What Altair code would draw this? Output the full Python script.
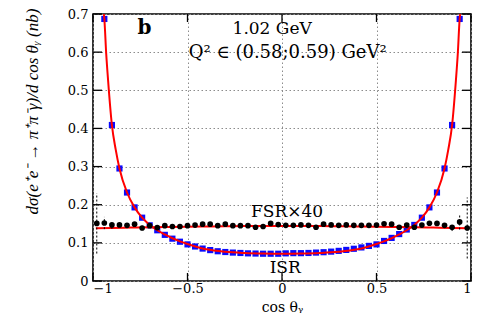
import altair as alt
import pandas as pd

# ---- data ----
isr_x = [-0.94, -0.90, -0.86, -0.82, -0.78, -0.74, -0.70, -0.66, -0.62, -0.58, -0.54, -0.50,
         -0.46, -0.42, -0.38, -0.34, -0.30, -0.26, -0.22, -0.18, -0.14, -0.10, -0.06, -0.02,
         0.02, 0.06, 0.10, 0.14, 0.18, 0.22, 0.26, 0.30, 0.34, 0.38, 0.42, 0.46,
         0.50, 0.54, 0.58, 0.62, 0.66, 0.70, 0.74, 0.78, 0.82, 0.86, 0.90, 0.94]
isr_y = [0.687, 0.409, 0.295, 0.232, 0.193, 0.166, 0.146, 0.133, 0.121, 0.111, 0.103, 0.096,
         0.0905, 0.085, 0.081, 0.078, 0.076, 0.0745, 0.0735, 0.0725, 0.072, 0.0715, 0.0715, 0.0715,
         0.0725, 0.073, 0.073, 0.0735, 0.0745, 0.0755, 0.077, 0.079, 0.0815, 0.0845, 0.088, 0.092,
         0.096, 0.105, 0.113, 0.123, 0.135, 0.147, 0.166, 0.193, 0.232, 0.295, 0.409, 0.687]

fsr_x = [-0.98, -0.94, -0.90, -0.86, -0.82, -0.78, -0.74, -0.70, -0.66, -0.62, -0.58, -0.54,
         -0.50, -0.46, -0.42, -0.38, -0.34, -0.30, -0.26, -0.22, -0.18, -0.14, -0.10, -0.06, -0.02,
         0.02, 0.06, 0.10, 0.14, 0.18, 0.22, 0.26, 0.30, 0.34, 0.38, 0.42, 0.46,
         0.50, 0.54, 0.58, 0.62, 0.66, 0.70, 0.74, 0.78, 0.82, 0.86, 0.90, 0.94, 0.98]
fsr_y = [0.151, 0.152, 0.147, 0.147, 0.146, 0.149, 0.139, 0.145, 0.140, 0.145, 0.143, 0.143,
         0.145, 0.1465, 0.149, 0.149, 0.145, 0.149, 0.145, 0.145, 0.145, 0.141, 0.143, 0.151, 0.148,
         0.146, 0.146, 0.147, 0.146, 0.141, 0.149, 0.147, 0.146, 0.147, 0.146, 0.146, 0.146,
         0.1465, 0.150, 0.149, 0.141, 0.1465, 0.141, 0.1465, 0.1515, 0.151, 0.146, 0.141, 0.155, 0.139]
fsr_err = [0.079, 0.016, 0.010, 0.005, 0.004, 0.004, 0.006, 0.004, 0.004, 0.004, 0.004, 0.004,
           0.004, 0.004, 0.004, 0.004, 0.004, 0.004, 0.004, 0.004, 0.004, 0.004, 0.004, 0.004, 0.004,
           0.004, 0.004, 0.004, 0.004, 0.004, 0.004, 0.004, 0.004, 0.004, 0.004, 0.004, 0.004,
           0.004, 0.004, 0.004, 0.005, 0.004, 0.005, 0.005, 0.004, 0.005, 0.006, 0.010, 0.020, 0.080]

isr_curve_x = [-0.9425, -0.94, -0.93, -0.92, -0.90, -0.88, -0.86, -0.82, -0.78, -0.74, -0.70,
               -0.66, -0.62, -0.58, -0.54, -0.50, -0.40, -0.30, -0.20, -0.10, 0.0,
               0.10, 0.20, 0.30, 0.40, 0.50, 0.54, 0.58, 0.62, 0.66, 0.70, 0.74, 0.78,
               0.82, 0.86, 0.88, 0.90, 0.92, 0.93, 0.94, 0.9425]
isr_curve_y = [0.700, 0.687, 0.595, 0.525, 0.409, 0.345, 0.295, 0.232, 0.193, 0.166, 0.147,
               0.133, 0.122, 0.112, 0.104, 0.097, 0.083, 0.0765, 0.0735, 0.072, 0.0715,
               0.072, 0.0735, 0.0765, 0.083, 0.097, 0.104, 0.112, 0.122, 0.133, 0.147, 0.166, 0.193,
               0.232, 0.295, 0.345, 0.409, 0.525, 0.595, 0.687, 0.700]

fsr_curve_x = [-0.985, -0.9, -0.8, -0.7, -0.6, -0.5, -0.4, -0.3, -0.2, -0.1, 0.0,
               0.1, 0.2, 0.3, 0.4, 0.5, 0.6, 0.7, 0.8, 0.9, 0.985]
fsr_curve_y = [0.138, 0.139, 0.140, 0.141, 0.1418, 0.1425, 0.143, 0.1435, 0.144, 0.144, 0.1442,
               0.144, 0.144, 0.1435, 0.143, 0.1425, 0.1418, 0.141, 0.140, 0.139, 0.138]

x_ticks = [-1, -0.5, 0, 0.5, 1]
y_ticks = [0, 0.1, 0.2, 0.3, 0.4, 0.5, 0.6, 0.7]

W, H = 378, 267
FONT = "DejaVu Serif"

xscale = alt.Scale(domain=[-1, 1], nice=False, zero=False)
yscale = alt.Scale(domain=[0, 0.7], nice=False, zero=False)

axis_x = alt.Axis(values=x_ticks, tickSize=0, domain=False, grid=True,
                  gridDash=[1.5, 2.5], gridColor="#8c8c8c", gridWidth=1,
                  labelFont=FONT, labelFontSize=13, labelColor="black", labelPadding=1,
                  labelExpr="datum.value == 0 ? '0' : (datum.value < 0 ? '\u2212' + format(-datum.value, '~g') : format(datum.value, '~g'))",
                  titleFont=FONT, titleFontSize=14, titleFontWeight="normal",
                  titleColor="black", titleBaseline="alphabetic", titleY=30)
axis_y = alt.Axis(values=y_ticks, tickSize=0, domain=False, grid=True,
                  gridDash=[1.5, 2.5], gridColor="#8c8c8c", gridWidth=1,
                  labelFont=FONT, labelFontSize=13, labelColor="black", labelPadding=5,
                  labelExpr="datum.value == 0 ? '0' : format(datum.value, '.1f')",
                  titleFont="Liberation Serif", titleFontSize=17, titleFontWeight="normal",
                  titleFontStyle="italic", titleColor="black",
                  titleAngle=270, titleAlign="center", titleBaseline="middle",
                  titleX=-61, titleY=97)

XT = "cos \u03b8\u1d67"
YT = "d\u03c3(e\u207ae\u207b \u2192 \u03c0\u207a\u03c0\u207b\u03b3)/d cos \u03b8\u1d67 (nb)"

X = alt.X("x:Q", scale=xscale, axis=axis_x, title=XT)
Y = alt.Y("y:Q", scale=yscale, axis=axis_y, title=YT)

isr_df = pd.DataFrame({"x": isr_x, "y": isr_y})
fsr_df = pd.DataFrame({"x": fsr_x, "y": fsr_y, "e": fsr_err})
isr_c = pd.DataFrame({"x": isr_curve_x, "y": isr_curve_y})
fsr_c = pd.DataFrame({"x": fsr_curve_x, "y": fsr_curve_y})
xt_df = pd.DataFrame({"x": x_ticks})
yt_df = pd.DataFrame({"y": y_ticks})

squares = alt.Chart(isr_df).mark_square(size=38, color="#0a0aff", opacity=1).encode(x=X, y=Y)
isr_line = alt.Chart(isr_c).mark_line(color="#ff0000", strokeWidth=2, interpolate="monotone", clip=True).encode(x=X, y=Y)
fsr_line = alt.Chart(fsr_c).mark_line(color="#ff0000", strokeWidth=2, interpolate="monotone", clip=True).encode(x=X, y=Y)
errbars = alt.Chart(fsr_df).transform_calculate(
    lo="datum.y - datum.e", hi="datum.y + datum.e"
).mark_rule(color="black", strokeWidth=1, strokeDash=[2, 2], clip=True).encode(
    x=X, y=alt.Y("lo:Q", scale=yscale, axis=axis_y, title=YT), y2="hi:Q")
dots = alt.Chart(fsr_df).mark_circle(size=32, color="black", opacity=1).encode(x=X, y=Y)

tick_b = alt.Chart(xt_df).mark_rule(color="black", strokeWidth=1.3).encode(
    x=X, y=alt.value(H), y2=alt.value(H - 8))
tick_t = alt.Chart(xt_df).mark_rule(color="black", strokeWidth=1.3).encode(
    x=X, y=alt.value(0), y2=alt.value(8))
tick_l = alt.Chart(yt_df).mark_rule(color="black", strokeWidth=1.3).encode(
    y=Y, x=alt.value(0), x2=alt.value(9))
tick_r = alt.Chart(yt_df).mark_rule(color="black", strokeWidth=1.3).encode(
    y=Y, x=alt.value(W), x2=alt.value(W - 9))

def label(txt, x, y, size=17, weight="normal", align="center"):
    return alt.Chart(pd.DataFrame({"x": [x], "y": [y]})).mark_text(
        text=txt, font=FONT, fontSize=size, fontWeight=weight, color="black",
        align=align, baseline="alphabetic").encode(x=X, y=Y)

texts = [
    label("b", -0.728, 0.648, size=20, weight="bold"),
    label("1.02 GeV", -0.052, 0.648),
    label("Q\u00b2 \u2208 (0.58;0.59) GeV\u00b2", 0.03, 0.585, size=18),
    label("FSR\u00d740", 0.027, 0.168),
    label("ISR", 0.017, 0.022),
]

chart = alt.layer(
    squares, isr_line, fsr_line, errbars, dots,
    tick_b, tick_t, tick_l, tick_r, *texts
).properties(
    width=W, height=H,
    padding={"left": 85, "top": 6, "right": 1, "bottom": 33},
    autosize=alt.AutoSizeParams(type="none"),
    background="white",
).configure_view(stroke="black", strokeWidth=1.6)

chart.save("out.html", embed_options={"renderer": "svg", "actions": False})
